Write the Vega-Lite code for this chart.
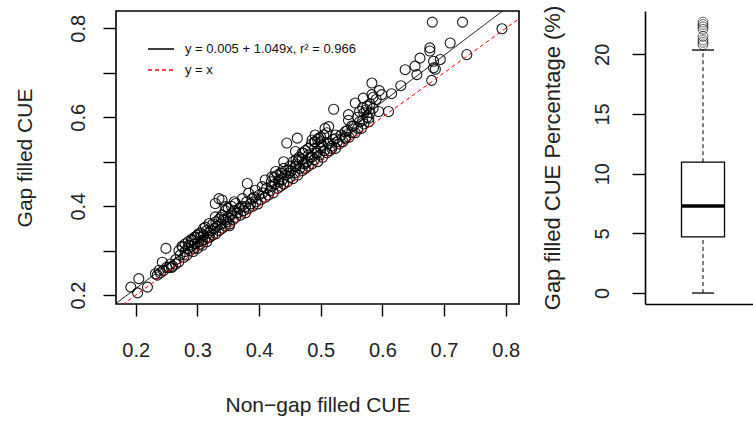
{
"$schema": "https://vega.github.io/schema/vega-lite/v6.json",
"padding": {"left": 13, "top": 5, "right": 0, "bottom": 5},
"bounds": "flush",
"spacing": 126,
"config": {
  "font": "Liberation Sans",
  "view": {"stroke": "black", "strokeWidth": 1.6},
  "axis": {"grid": false, "labelColor": "#222", "titleColor": "#222", "tickColor": "#000", "tickWidth": 1.4, "domainColor": "#000", "domainWidth": 1.6, "titleFontWeight": "normal", "labelFont": "Liberation Sans", "titleFont": "Liberation Sans", "labelFlush": false, "labelOverlap": false}
},
"hconcat": [
{
  "width": 403, "height": 293,
  "layer": [
    {
      "data": {"values": [
{"x":0.681,"y":0.814},{"x":0.730,"y":0.814},{"x":0.794,"y":0.799},{"x":0.710,"y":0.767},{"x":0.677,"y":0.756},{"x":0.677,"y":0.749},{"x":0.737,"y":0.741},{"x":0.661,"y":0.733},{"x":0.694,"y":0.730},{"x":0.683,"y":0.726},{"x":0.683,"y":0.711},{"x":0.686,"y":0.708},{"x":0.653,"y":0.715},{"x":0.637,"y":0.707},{"x":0.656,"y":0.696},{"x":0.680,"y":0.683},{"x":0.583,"y":0.677},{"x":0.630,"y":0.671},{"x":0.615,"y":0.653},{"x":0.599,"y":0.651},{"x":0.583,"y":0.651},{"x":0.569,"y":0.643},{"x":0.556,"y":0.632},{"x":0.610,"y":0.613},{"x":0.594,"y":0.613},{"x":0.568,"y":0.622},{"x":0.574,"y":0.617},{"x":0.563,"y":0.613},{"x":0.545,"y":0.606},{"x":0.521,"y":0.618},{"x":0.578,"y":0.598},{"x":0.568,"y":0.593},{"x":0.545,"y":0.593},{"x":0.513,"y":0.579},{"x":0.507,"y":0.575},{"x":0.491,"y":0.560},{"x":0.497,"y":0.553},{"x":0.491,"y":0.545},{"x":0.486,"y":0.549},{"x":0.540,"y":0.568},{"x":0.524,"y":0.560},{"x":0.540,"y":0.552},{"x":0.524,"y":0.552},{"x":0.513,"y":0.541},{"x":0.502,"y":0.537},{"x":0.518,"y":0.530},{"x":0.462,"y":0.553},{"x":0.445,"y":0.542},{"x":0.459,"y":0.523},{"x":0.472,"y":0.519},{"x":0.464,"y":0.504},{"x":0.475,"y":0.496},{"x":0.486,"y":0.511},{"x":0.494,"y":0.519},{"x":0.440,"y":0.500},{"x":0.459,"y":0.489},{"x":0.448,"y":0.474},{"x":0.437,"y":0.474},{"x":0.427,"y":0.478},{"x":0.421,"y":0.466},{"x":0.410,"y":0.459},{"x":0.432,"y":0.459},{"x":0.405,"y":0.444},{"x":0.381,"y":0.451},{"x":0.394,"y":0.436},{"x":0.383,"y":0.429},{"x":0.389,"y":0.417},{"x":0.373,"y":0.417},{"x":0.362,"y":0.406},{"x":0.378,"y":0.399},{"x":0.356,"y":0.384},{"x":0.340,"y":0.414},{"x":0.335,"y":0.417},{"x":0.329,"y":0.406},{"x":0.346,"y":0.399},{"x":0.346,"y":0.369},{"x":0.352,"y":0.356},{"x":0.329,"y":0.376},{"x":0.319,"y":0.361},{"x":0.313,"y":0.353},{"x":0.302,"y":0.338},{"x":0.297,"y":0.331},{"x":0.308,"y":0.323},{"x":0.292,"y":0.323},{"x":0.286,"y":0.312},{"x":0.276,"y":0.308},{"x":0.249,"y":0.305},{"x":0.243,"y":0.274},{"x":0.254,"y":0.263},{"x":0.238,"y":0.256},{"x":0.258,"y":0.262},{"x":0.232,"y":0.248},{"x":0.205,"y":0.237},{"x":0.192,"y":0.218},{"x":0.219,"y":0.218},{"x":0.203,"y":0.205},
{"x":0.245,"y":0.255},{"x":0.25,"y":0.262},{"x":0.256,"y":0.27},{"x":0.26,"y":0.265},{"x":0.265,"y":0.28},{"x":0.27,"y":0.275},{"x":0.272,"y":0.29},{"x":0.278,"y":0.285},{"x":0.28,"y":0.298},{"x":0.283,"y":0.29},{"x":0.288,"y":0.3},{"x":0.29,"y":0.31},{"x":0.293,"y":0.298},{"x":0.296,"y":0.315},{"x":0.3,"y":0.305},{"x":0.302,"y":0.32},{"x":0.305,"y":0.33},{"x":0.308,"y":0.312},{"x":0.31,"y":0.335},{"x":0.312,"y":0.325},{"x":0.315,"y":0.32},{"x":0.318,"y":0.34},{"x":0.32,"y":0.33},{"x":0.322,"y":0.345},{"x":0.325,"y":0.335},{"x":0.328,"y":0.35},{"x":0.33,"y":0.338},{"x":0.332,"y":0.355},{"x":0.335,"y":0.345},{"x":0.338,"y":0.36},{"x":0.34,"y":0.35},{"x":0.342,"y":0.37},{"x":0.345,"y":0.355},{"x":0.348,"y":0.365},{"x":0.35,"y":0.375},{"x":0.352,"y":0.36},{"x":0.355,"y":0.38},{"x":0.358,"y":0.37},{"x":0.36,"y":0.39},{"x":0.362,"y":0.375},{"x":0.365,"y":0.385},{"x":0.368,"y":0.395},{"x":0.37,"y":0.38},{"x":0.372,"y":0.4},{"x":0.375,"y":0.39},{"x":0.378,"y":0.385},{"x":0.38,"y":0.41},{"x":0.383,"y":0.395},{"x":0.386,"y":0.405},{"x":0.39,"y":0.4},{"x":0.392,"y":0.42},{"x":0.395,"y":0.41},{"x":0.398,"y":0.405},{"x":0.4,"y":0.425},{"x":0.403,"y":0.415},{"x":0.406,"y":0.43},{"x":0.41,"y":0.42},{"x":0.412,"y":0.44},{"x":0.415,"y":0.425},{"x":0.418,"y":0.435},{"x":0.42,"y":0.445},{"x":0.423,"y":0.43},{"x":0.426,"y":0.45},{"x":0.43,"y":0.44},{"x":0.432,"y":0.455},{"x":0.435,"y":0.445},{"x":0.438,"y":0.46},{"x":0.44,"y":0.45},{"x":0.443,"y":0.47},{"x":0.446,"y":0.455},{"x":0.45,"y":0.465},{"x":0.452,"y":0.48},{"x":0.455,"y":0.462},{"x":0.458,"y":0.475},{"x":0.46,"y":0.49},{"x":0.463,"y":0.47},{"x":0.466,"y":0.485},{"x":0.47,"y":0.48},{"x":0.472,"y":0.495},{"x":0.475,"y":0.485},{"x":0.478,"y":0.5},{"x":0.48,"y":0.49},{"x":0.483,"y":0.51},{"x":0.486,"y":0.495},{"x":0.49,"y":0.505},{"x":0.492,"y":0.52},{"x":0.495,"y":0.5},{"x":0.498,"y":0.515},{"x":0.5,"y":0.53},{"x":0.503,"y":0.51},{"x":0.506,"y":0.525},{"x":0.51,"y":0.52},{"x":0.512,"y":0.54},{"x":0.515,"y":0.525},{"x":0.518,"y":0.535},{"x":0.52,"y":0.55},{"x":0.524,"y":0.53},{"x":0.527,"y":0.545},{"x":0.53,"y":0.54},{"x":0.533,"y":0.56},{"x":0.536,"y":0.545},{"x":0.54,"y":0.555},{"x":0.543,"y":0.57},{"x":0.546,"y":0.555},{"x":0.55,"y":0.565},{"x":0.553,"y":0.58},{"x":0.556,"y":0.565},{"x":0.56,"y":0.575},{"x":0.563,"y":0.59},{"x":0.566,"y":0.575},{"x":0.57,"y":0.585},{"x":0.575,"y":0.6},{"x":0.578,"y":0.59},{"x":0.58,"y":0.61},{"x":0.585,"y":0.62},
{"x":0.27,"y":0.3},{"x":0.275,"y":0.31},{"x":0.28,"y":0.315},{"x":0.285,"y":0.32},{"x":0.29,"y":0.325},{"x":0.295,"y":0.33},{"x":0.3,"y":0.335},{"x":0.305,"y":0.34},{"x":0.31,"y":0.35},{"x":0.315,"y":0.345},{"x":0.285,"y":0.305},{"x":0.295,"y":0.305},{"x":0.305,"y":0.315},{"x":0.318,"y":0.33},{"x":0.325,"y":0.36},{"x":0.335,"y":0.37},{"x":0.34,"y":0.38},{"x":0.345,"y":0.39},{"x":0.35,"y":0.395},{"x":0.355,"y":0.4},{"x":0.36,"y":0.41},{"x":0.33,"y":0.365},{"x":0.338,"y":0.375},
{"x":0.42,"y":0.455},{"x":0.425,"y":0.465},{"x":0.43,"y":0.47},{"x":0.435,"y":0.475},{"x":0.44,"y":0.485},{"x":0.445,"y":0.48},{"x":0.45,"y":0.49},{"x":0.455,"y":0.5},{"x":0.46,"y":0.505},{"x":0.465,"y":0.51},{"x":0.47,"y":0.52},{"x":0.475,"y":0.525},{"x":0.48,"y":0.53},{"x":0.485,"y":0.54},{"x":0.49,"y":0.545},{"x":0.495,"y":0.55},{"x":0.5,"y":0.555},{"x":0.505,"y":0.56},{"x":0.51,"y":0.565},{"x":0.5,"y":0.545},{"x":0.49,"y":0.53},{"x":0.48,"y":0.515},{"x":0.47,"y":0.505},{"x":0.46,"y":0.495},
{"x":0.55,"y":0.58},{"x":0.56,"y":0.6},{"x":0.57,"y":0.61},{"x":0.575,"y":0.625},{"x":0.58,"y":0.63},{"x":0.585,"y":0.645},{"x":0.59,"y":0.64},{"x":0.595,"y":0.66},{"x":0.235,"y":0.245},{"x":0.24,"y":0.25},{"x":0.265,"y":0.27}
      ]},
      "mark": {"type": "point", "shape": "circle", "filled": false, "stroke": "black", "strokeWidth": 1.1, "size": 100, "opacity": 0.9},
      "encoding": {
        "x": {"field": "x", "type": "quantitative", "scale": {"domain": [0.168, 0.8216], "nice": false, "zero": false},
              "axis": {"values": [0.2,0.3,0.4,0.5,0.6,0.7,0.8], "format": ".1f", "title": "Non−gap filled CUE", "tickSize": 12, "labelPadding": 24, "labelFontSize": 20, "titleFontSize": 21, "titlePadding": 34, "domain": false}},
        "y": {"field": "y", "type": "quantitative", "scale": {"domain": [0.18, 0.839], "nice": false, "zero": false},
              "axis": {"values": [0.2,0.3,0.4,0.5,0.6,0.7,0.8], "format": ".1f", "labelExpr": "indexof(['0.2','0.4','0.6','0.8'], datum.label) >= 0 ? datum.label : ''", "labelAngle": -90, "labelAlign": "center", "labelBaseline": "bottom", "tickSize": 13, "labelPadding": 15, "labelFontSize": 20, "title": "Gap filled CUE", "titleFontSize": 21, "titlePadding": 33, "domain": false}}
      }
    },
    {
      "data": {"values": [
        {"line": "y = 0.005 + 1.049x,  r² = 0.966", "x": 0.16, "y": 0.1728},
        {"line": "y = 0.005 + 1.049x,  r² = 0.966", "x": 0.83, "y": 0.8757},
        {"line": "y = x", "x": 0.16, "y": 0.16},
        {"line": "y = x", "x": 0.83, "y": 0.83}
      ]},
      "mark": {"type": "line", "clip": true, "strokeWidth": 1},
      "encoding": {
        "x": {"field": "x", "type": "quantitative"},
        "y": {"field": "y", "type": "quantitative"},
        "color": {"field": "line", "type": "nominal", "scale": {"domain": ["y = 0.005 + 1.049x,  r² = 0.966", "y = x"], "range": ["#000000", "#ff0000"]},
                  "legend": {"title": null, "orient": "none", "legendX": 31, "legendY": 24, "symbolType": "stroke", "symbolSize": 676, "symbolStrokeWidth": 1.3, "labelFontSize": 13, "labelLimit": 400, "labelColor": "#111", "labelOffset": 10, "rowPadding": 0}},
        "strokeDash": {"field": "line", "type": "nominal", "scale": {"domain": ["y = 0.005 + 1.049x,  r² = 0.966", "y = x"], "range": [[1, 0], [4, 3]]},
                  "legend": {"title": null, "orient": "none", "legendX": 31, "legendY": 24, "symbolType": "stroke", "symbolSize": 676, "symbolStrokeWidth": 1.3, "labelFontSize": 13, "labelLimit": 400, "labelColor": "#111", "labelOffset": 10, "rowPadding": 0}}
      }
    }
  ]
},
{
  "width": 108, "height": 293,
  "view": {"stroke": null},
  "layer": [
    {
      "data": {"values": [{"g": "A", "lower": 0, "q1": 4.7, "median": 7.3, "q3": 10.96, "upper": 20.36}]},
      "mark": {"type": "rule", "strokeDash": [4, 3], "color": "black", "strokeWidth": 1},
      "encoding": {
        "x": {"field": "g", "type": "nominal", "scale": {"type": "point", "align": 0.537}, "axis": {"orient": "bottom", "labels": false, "ticks": false, "title": null, "domain": true, "domainColor": "#000"}},
        "y": {"field": "lower", "type": "quantitative", "scale": {"domain": [-0.92, 23.63], "nice": false, "zero": false},
              "axis": {"values": [0,5,10,15,20], "labelAngle": -90, "labelAlign": "center", "labelBaseline": "bottom", "tickColor": "#000", "tickWidth": 1.4, "tickSize": 13, "labelPadding": 20, "labelFontSize": 20, "title": "Gap filled CUE Percentage (%)", "titleFontSize": 22, "titlePadding": 28, "domain": true}},
        "y2": {"field": "q1"}
      }
    },
    {
      "mark": {"type": "rule", "color": "black", "strokeWidth": 1.6},
      "encoding": {"y": {"datum": 23.63}}
    },
    {
      "data": {"values": [{"g": "A", "lower": 0, "q1": 4.7, "median": 7.3, "q3": 10.96, "upper": 20.36}]},
      "mark": {"type": "rule", "strokeDash": [4, 3], "color": "black", "strokeWidth": 1},
      "encoding": {
        "x": {"field": "g", "type": "nominal"},
        "y": {"field": "q3", "type": "quantitative"},
        "y2": {"field": "upper"}
      }
    },
    {
      "data": {"values": [{"g": "A", "lower": 0, "q1": 4.7, "median": 7.3, "q3": 10.96, "upper": 20.36}]},
      "mark": {"type": "bar", "width": 43, "fill": "white", "stroke": "black", "strokeWidth": 1.3},
      "encoding": {
        "x": {"field": "g", "type": "nominal"},
        "y": {"field": "q1", "type": "quantitative"},
        "y2": {"field": "q3"}
      }
    },
    {
      "data": {"values": [{"g": "A", "lower": 0, "q1": 4.7, "median": 7.3, "q3": 10.96, "upper": 20.36}]},
      "mark": {"type": "tick", "size": 43, "thickness": 3.5, "color": "black", "opacity": 1},
      "encoding": {
        "x": {"field": "g", "type": "nominal"},
        "y": {"field": "median", "type": "quantitative"}
      }
    },
    {
      "data": {"values": [{"g": "A", "lower": 0, "q1": 4.7, "median": 7.3, "q3": 10.96, "upper": 20.36}]},
      "mark": {"type": "tick", "size": 22, "thickness": 1.3, "color": "black", "opacity": 1},
      "encoding": {
        "x": {"field": "g", "type": "nominal"},
        "y": {"field": "lower", "type": "quantitative"}
      }
    },
    {
      "data": {"values": [{"g": "A", "lower": 0, "q1": 4.7, "median": 7.3, "q3": 10.96, "upper": 20.36}]},
      "mark": {"type": "tick", "size": 22, "thickness": 1.3, "color": "black", "opacity": 1},
      "encoding": {
        "x": {"field": "g", "type": "nominal"},
        "y": {"field": "upper", "type": "quantitative"}
      }
    },
    {
      "data": {"values": [{"g": "A", "v": 22.7}, {"g": "A", "v": 22.5}, {"g": "A", "v": 22.3}, {"g": "A", "v": 22.1}, {"g": "A", "v": 21.5}, {"g": "A", "v": 21.2}, {"g": "A", "v": 21.0}, {"g": "A", "v": 20.8}]},
      "mark": {"type": "point", "shape": "circle", "filled": false, "stroke": "black", "strokeWidth": 1, "size": 95, "opacity": 0.6},
      "encoding": {
        "x": {"field": "g", "type": "nominal"},
        "y": {"field": "v", "type": "quantitative"}
      }
    }
  ]
}
]
}
